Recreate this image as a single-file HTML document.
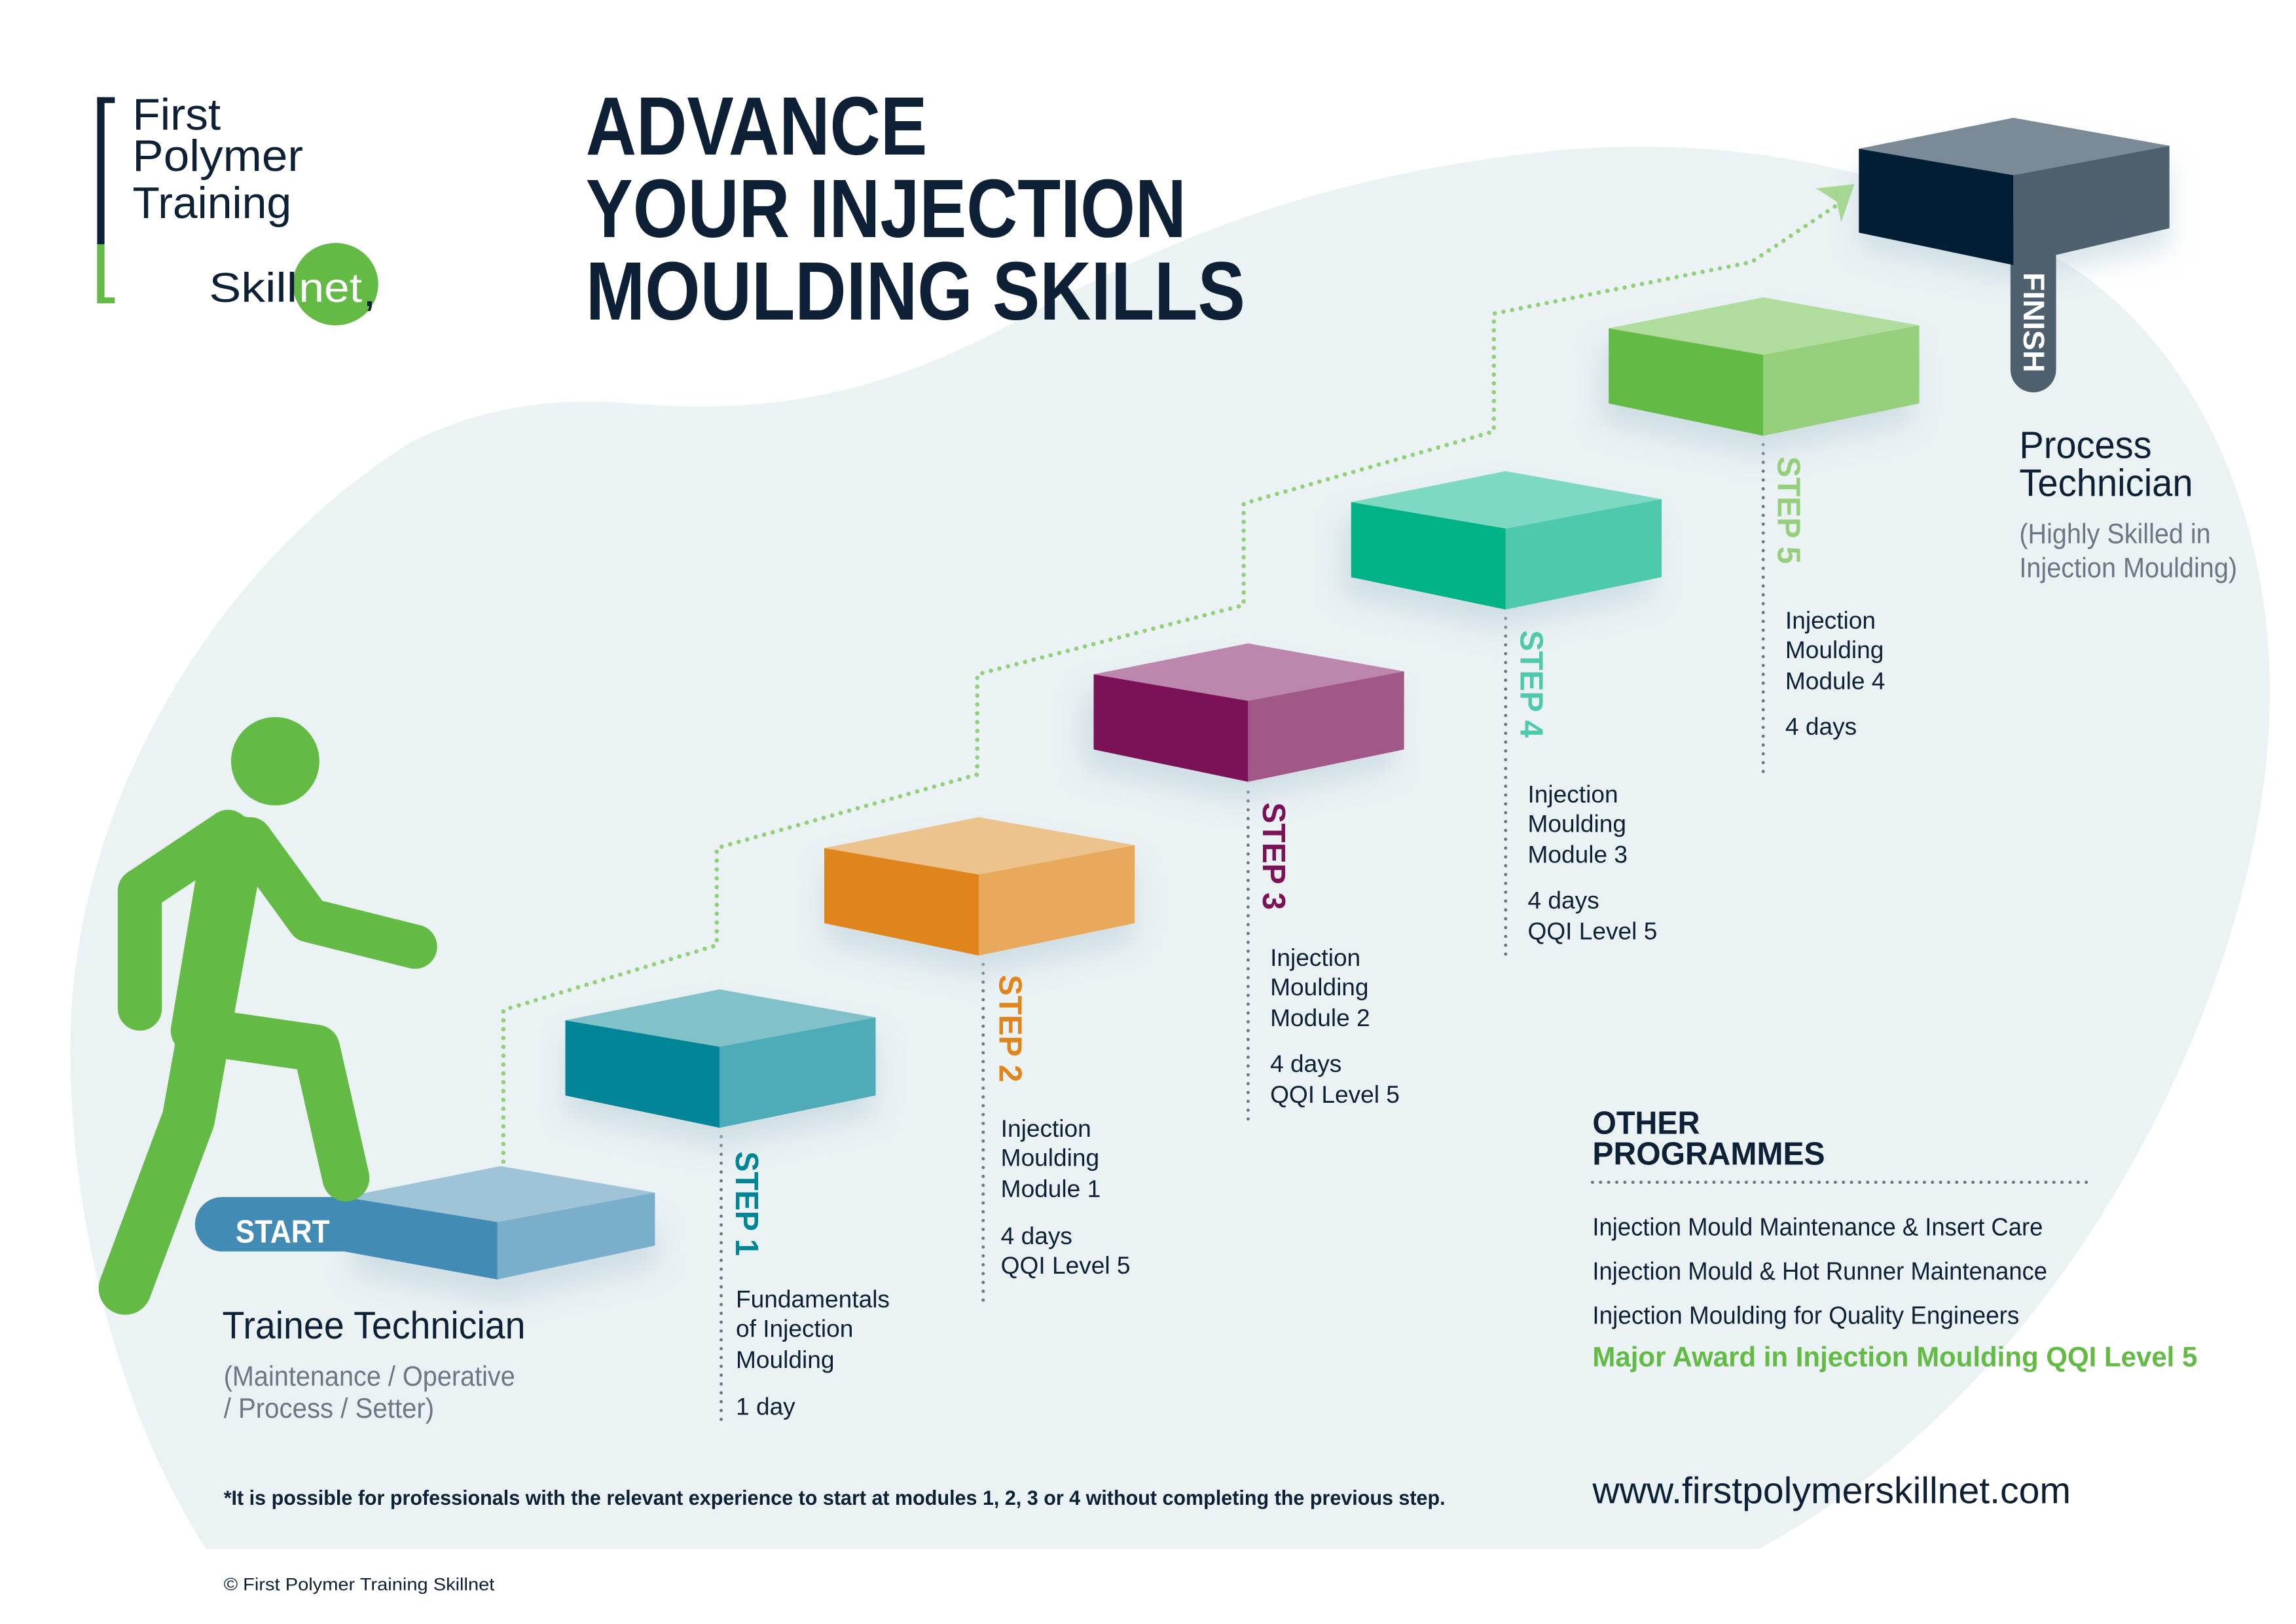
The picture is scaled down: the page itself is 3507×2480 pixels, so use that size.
<!DOCTYPE html>
<html><head><meta charset="utf-8"><style>
html,body{margin:0;padding:0;background:#fff}
svg{display:block}
text{font-family:"Liberation Sans Narrow","Liberation Sans",sans-serif}
</style></head><body>
<svg width="3507" height="2480" viewBox="0 0 1560 1103" preserveAspectRatio="none" xmlns="http://www.w3.org/2000/svg">
<defs>
<filter id="sh" x="-30%" y="-30%" width="160%" height="160%"><feGaussianBlur stdDeviation="9"/></filter>
</defs>
<rect width="1560" height="1103" fill="#fff"/>
<path d="M140,1052 C80,960 45,820 48,700 C52,540 150,380 280,300 C330,275 380,270 430,274 C540,284 620,258 700,213 C800,160 900,118 1060,102 C1200,90 1330,125 1420,190 C1505,255 1545,370 1542,480 C1540,650 1420,930 1195,1052 Z" fill="#ebf2f4"/>

<!-- Logo -->
<rect x="66" y="66" width="5" height="100" fill="#0d2036"/>
<rect x="66" y="66" width="12" height="4" fill="#0d2036"/>
<rect x="66" y="166" width="5" height="40" fill="#63bb46"/>
<rect x="66" y="202" width="12" height="4" fill="#63bb46"/>
<g fill="#0d2036" font-size="30">
<text x="90" y="88" textLength="60" lengthAdjust="spacingAndGlyphs">First</text>
<text x="90" y="116" textLength="116" lengthAdjust="spacingAndGlyphs">Polymer</text>
<text x="90" y="148" textLength="108" lengthAdjust="spacingAndGlyphs">Training</text>
</g>
<ellipse cx="228" cy="193" rx="29" ry="28" fill="#63bb46"/>
<text x="142" y="205" font-size="28" fill="#0d2036" textLength="60" lengthAdjust="spacingAndGlyphs">Skill</text>
<text x="203" y="205" font-size="28" fill="#fff" textLength="43" lengthAdjust="spacingAndGlyphs">net</text>
<text x="248" y="208" font-size="22" fill="#0d2036" font-weight="bold">,</text>

<!-- Title -->
<g fill="#0d2036" font-size="56" font-weight="bold">
<text x="398" y="105" textLength="232" lengthAdjust="spacingAndGlyphs">ADVANCE</text>
<text x="398" y="161" textLength="408" lengthAdjust="spacingAndGlyphs">YOUR INJECTION</text>
<text x="398" y="217" textLength="448" lengthAdjust="spacingAndGlyphs">MOULDING SKILLS</text>
</g>

<!-- Green dotted path -->
<path d="M342,795 V686 L487,642 V576 L664,526 V458 L845,411 V342 L1015,293 V213 L1190,178 L1250,138" fill="none" stroke="#94d07c" stroke-width="3" stroke-linecap="round" stroke-dasharray="0 6"/>
<polygon points="1234,128 1260,125 1251,151 1248,137" fill="#a5d890"/>

<!-- Gray dotted verticals -->
<g stroke="#6b7785" stroke-width="2.2" stroke-linecap="round" stroke-dasharray="0 6" fill="none">
<path d="M490,772 V968"/><path d="M668,655 V885"/><path d="M848,538 V762"/><path d="M1023,420 V650"/><path d="M1198,302 V525"/>
</g>

<!-- shadows -->
<g fill="#b9cfd8" opacity="0.55" filter="url(#sh)">
<polygon points="240,830 340,812 447,832 447,860 340,884 240,866"/>
<polygon transform="translate(489,724)" points="-105,-18 0,-39 106,-20 106,33 0,55 -105,33"/>
<polygon transform="translate(665,607)" points="-105,-18 0,-39 106,-20 106,33 0,55 -105,33"/>
<polygon transform="translate(841,489)" points="-105,-18 0,-39 106,-20 106,33 0,55 -105,33"/>
<polygon transform="translate(1017,372)" points="-105,-18 0,-39 106,-20 106,33 0,55 -105,33"/>
<polygon transform="translate(1193,254)" points="-105,-18 0,-39 106,-20 106,33 0,55 -105,33"/>
<polygon transform="translate(1368,132)" points="-105,-18 0,-39 106,-20 106,36 0,58 -105,36"/>
</g>

<!-- START box -->
<path d="M151,813 H234 L338,830 V869 L234,850 H151 A18,18 0 0 1 151,813 Z" fill="#418bb5"/>
<polygon points="234,813 340,792 445,810 338,830" fill="#9fc4d8"/>
<polygon points="338,830 445,810 445,846 338,869" fill="#7aafcc"/>
<text x="160" y="844" font-size="22" font-weight="bold" fill="#fff" textLength="64" lengthAdjust="spacingAndGlyphs">START</text>

<!-- Step boxes -->
<g transform="translate(489,711)"><polygon points="-105,-18 0,-39 106,-20 0,0" fill="#80c1ca"/><polygon points="-105,-18 0,0 0,55 -105,33" fill="#028596"/><polygon points="0,0 106,-20 106,33 0,55" fill="#4eabb8"/></g>
<g transform="translate(665,594)"><polygon points="-105,-18 0,-39 106,-20 0,0" fill="#edc38d"/><polygon points="-105,-18 0,0 0,55 -105,33" fill="#e0841c"/><polygon points="0,0 106,-20 106,33 0,55" fill="#e8a95c"/></g>
<g transform="translate(848,476)"><polygon points="-105,-18 0,-39 106,-20 0,0" fill="#bd86ad"/><polygon points="-105,-18 0,0 0,55 -105,33" fill="#7b1258"/><polygon points="0,0 106,-20 106,33 0,55" fill="#a15889"/></g>
<g transform="translate(1023,359)"><polygon points="-105,-18 0,-39 106,-20 0,0" fill="#7dd9c2"/><polygon points="-105,-18 0,0 0,55 -105,33" fill="#00b286"/><polygon points="0,0 106,-20 106,33 0,55" fill="#4fc9ab"/></g>
<g transform="translate(1198,241)"><polygon points="-105,-18 0,-39 106,-20 0,0" fill="#b0dd9e"/><polygon points="-105,-18 0,0 0,55 -105,33" fill="#63bb46"/><polygon points="0,0 106,-20 106,33 0,55" fill="#95cf7c"/></g>
<!-- Finish -->
<path d="M1366,150 H1397 V251 A15.5,15.5 0 0 1 1366,251 Z" fill="#4e5f6e"/>
<g transform="translate(1368,119)"><polygon points="-105,-18 0,-39 106,-20 0,0" fill="#7b8a97"/><polygon points="-105,-18 0,0 0,61 -105,39" fill="#011f34"/><polygon points="0,0 106,-20 106,36 0,61" fill="#4e5f6e"/></g>
<text transform="translate(1375,185) rotate(90)" font-size="20" font-weight="bold" fill="#fff" textLength="68" lengthAdjust="spacingAndGlyphs">FINISH</text>

<!-- STEP labels -->
<g font-size="22" font-weight="bold">
<text transform="translate(500,782) rotate(90)" fill="#028596" textLength="71" lengthAdjust="spacingAndGlyphs">STEP 1</text>
<text transform="translate(679,662) rotate(90)" fill="#e0841c" textLength="73" lengthAdjust="spacingAndGlyphs">STEP 2</text>
<text transform="translate(858,545) rotate(90)" fill="#7b1258" textLength="73" lengthAdjust="spacingAndGlyphs">STEP 3</text>
<text transform="translate(1033,428) rotate(90)" fill="#4fc9ab" textLength="73" lengthAdjust="spacingAndGlyphs">STEP 4</text>
<text transform="translate(1208,310) rotate(90)" fill="#95cf7c" textLength="73" lengthAdjust="spacingAndGlyphs">STEP 5</text>
</g>

<!-- descriptions -->
<g fill="#0d2036" font-size="16.5">
<text x="500" y="888">Fundamentals</text><text x="500" y="908">of Injection</text><text x="500" y="929">Moulding</text><text x="500" y="961">1 day</text>
<text x="680" y="772">Injection</text><text x="680" y="792">Moulding</text><text x="680" y="813">Module 1</text><text x="680" y="845">4 days</text><text x="680" y="865">QQI Level 5</text>
<text x="863" y="656">Injection</text><text x="863" y="676">Moulding</text><text x="863" y="697">Module 2</text><text x="863" y="728">4 days</text><text x="863" y="749">QQI Level 5</text>
<text x="1038" y="545">Injection</text><text x="1038" y="565">Moulding</text><text x="1038" y="586">Module 3</text><text x="1038" y="617">4 days</text><text x="1038" y="638">QQI Level 5</text>
<text x="1213" y="427">Injection</text><text x="1213" y="447">Moulding</text><text x="1213" y="468">Module 4</text><text x="1213" y="499">4 days</text>
</g>

<!-- Technicians -->
<text x="151" y="909" font-size="26" fill="#0d2036" textLength="206" lengthAdjust="spacingAndGlyphs">Trainee Technician</text>
<g fill="#6b7785" font-size="19">
<text x="152" y="941" textLength="198" lengthAdjust="spacingAndGlyphs">(Maintenance / Operative</text>
<text x="152" y="963" textLength="143" lengthAdjust="spacingAndGlyphs">/ Process / Setter)</text>
<text x="1372" y="369" textLength="130" lengthAdjust="spacingAndGlyphs">(Highly Skilled in</text>
<text x="1372" y="392" textLength="148" lengthAdjust="spacingAndGlyphs">Injection Moulding)</text>
</g>
<g fill="#0d2036" font-size="26">
<text x="1372" y="311" textLength="90" lengthAdjust="spacingAndGlyphs">Process</text>
<text x="1372" y="337" textLength="118" lengthAdjust="spacingAndGlyphs">Technician</text>
</g>

<!-- Walker -->
<g fill="none" stroke="#63bb46" stroke-linecap="round" stroke-linejoin="round">
<path d="M162,572 L128,760 L85,875" stroke-width="36"/>
<path d="M152,580 L132,700 L215,712 L235,800" stroke-width="32"/>
<path d="M155,565 L95,605 L95,685" stroke-width="30"/>
<path d="M170,570 L210,625 L282,643" stroke-width="30"/>
</g>
<circle cx="187" cy="517" r="30" fill="#63bb46"/>

<!-- Other programmes -->
<g fill="#0d2036" font-size="22" font-weight="bold">
<text x="1082" y="770" textLength="73" lengthAdjust="spacingAndGlyphs">OTHER</text>
<text x="1082" y="791" textLength="158" lengthAdjust="spacingAndGlyphs">PROGRAMMES</text>
</g>
<path d="M1082,803 H1420" stroke="#6b7785" stroke-width="2.2" stroke-linecap="round" stroke-dasharray="0 5.5"/>
<g fill="#0d2036" font-size="17">
<text x="1082" y="839" textLength="306" lengthAdjust="spacingAndGlyphs">Injection Mould Maintenance &amp; Insert Care</text>
<text x="1082" y="869" textLength="309" lengthAdjust="spacingAndGlyphs">Injection Mould &amp; Hot Runner Maintenance</text>
<text x="1082" y="899" textLength="290" lengthAdjust="spacingAndGlyphs">Injection Moulding for Quality Engineers</text>
</g>
<text x="1082" y="928" font-size="19" font-weight="bold" fill="#63bb46" textLength="411" lengthAdjust="spacingAndGlyphs">Major Award in Injection Moulding QQI Level 5</text>

<text x="152" y="1022" font-size="14" font-weight="bold" fill="#0d2036" textLength="830" lengthAdjust="spacingAndGlyphs">*It is possible for professionals with the relevant experience to start at modules 1, 2, 3 or 4 without completing the previous step.</text>
<text x="1082" y="1021" font-size="25" fill="#0d2036" textLength="325" lengthAdjust="spacingAndGlyphs">www.firstpolymerskillnet.com</text>
<text x="152" y="1080" font-size="12" fill="#0d2036" textLength="184" lengthAdjust="spacingAndGlyphs">© First Polymer Training Skillnet</text>
</svg>
</body></html>
